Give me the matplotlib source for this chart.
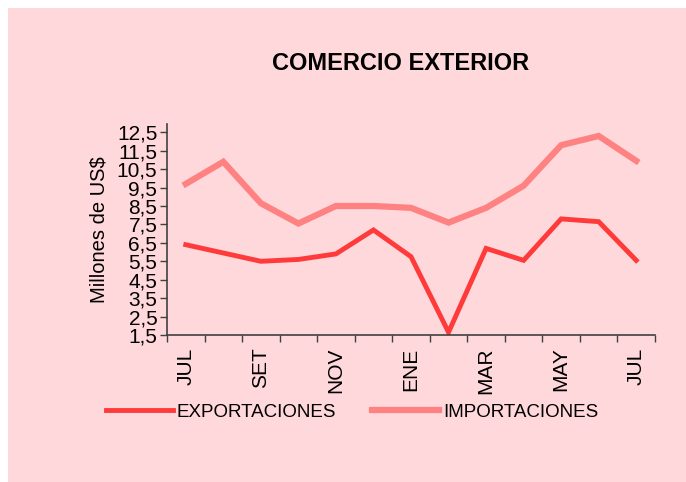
import matplotlib.pyplot as plt
from matplotlib.patches import Rectangle
from matplotlib.ticker import FixedLocator, NullFormatter

months = ['JUL', 'AGO', 'SET', 'OCT', 'NOV', 'DIC', 'ENE',
          'FEB', 'MAR', 'ABR', 'MAY', 'JUN', 'JUL']
exportaciones = [6.4, 5.95, 5.5, 5.6, 5.9, 7.2, 5.75, 1.65, 6.2, 5.55, 7.8, 7.65, 5.55]
importaciones = [9.7, 10.9, 8.65, 7.55, 8.5, 8.5, 8.4, 7.6, 8.4, 9.6, 11.8, 12.3, 10.95]
y_ticks = [1.5 + i for i in range(12)]

plt.rcParams['font.family'] = ['Liberation Sans', 'DejaVu Sans']

bg = '#ffd8db'
fig = plt.figure(figsize=(6.86, 4.82), dpi=100)
fig.patch.set_facecolor('white')
fig.patches.append(Rectangle((8 / 686, 0), 1, 1 - 8 / 482, transform=fig.transFigure,
                             facecolor=bg, edgecolor='none', zorder=-10))

ax = fig.add_axes([167 / 686, 1 - 335 / 482, (655 - 167) / 686, (335 - 124) / 482])
ax.set_facecolor(bg)
ax.patch.set_alpha(0)

x = list(range(len(months)))
l1, = ax.plot(x, exportaciones, color='#ff3a3a', lw=3.5, solid_joinstyle='miter')
l2, = ax.plot(x, importaciones, color='#ff8282', lw=4.5, solid_joinstyle='miter')

ax.set_xlim(-0.5, len(months) - 0.5)
ax.set_ylim(1.5, 12.95)
ax.set_yticks(y_ticks)
ax.set_yticklabels([f'{v:.1f}'.replace('.', ',') for v in y_ticks], fontsize=15)
ax.xaxis.set_major_locator(FixedLocator([i for i in x if i % 2 == 0]))
ax.set_xticklabels([m for i, m in enumerate(months) if i % 2 == 0],
                   rotation=90, fontsize=15)
ax.xaxis.set_minor_locator(FixedLocator([i - 0.5 for i in range(len(months) + 1)]))
ax.xaxis.set_minor_formatter(NullFormatter())
ax.tick_params(axis='x', which='major', length=0, pad=9)
ax.tick_params(axis='x', which='minor', length=5, width=1, color='#404040', direction='out')
ax.tick_params(axis='y', length=5, width=1, color='#404040', direction='out', pad=2)

for s in ['top', 'right']:
    ax.spines[s].set_visible(False)
for s in ['left', 'bottom']:
    ax.spines[s].set_color('#404040')
    ax.spines[s].set_linewidth(1.2)

ax.set_ylabel('Millones de US$', fontsize=14.5, labelpad=6)
fig.text(401 / 686, 1 - 63 / 482, 'COMERCIO EXTERIOR', fontsize=17, fontweight='bold',
         ha='center', va='center')

fig.legend([l1, l2], ['EXPORTACIONES', 'IMPORTACIONES'], loc='center',
           bbox_to_anchor=(352 / 686, 1 - 412 / 482), ncol=2, frameon=False,
           fontsize=13.5, handlelength=3.6, handletextpad=0.2, columnspacing=1.9)

fig.savefig('out.png', dpi=100, facecolor=fig.get_facecolor())
